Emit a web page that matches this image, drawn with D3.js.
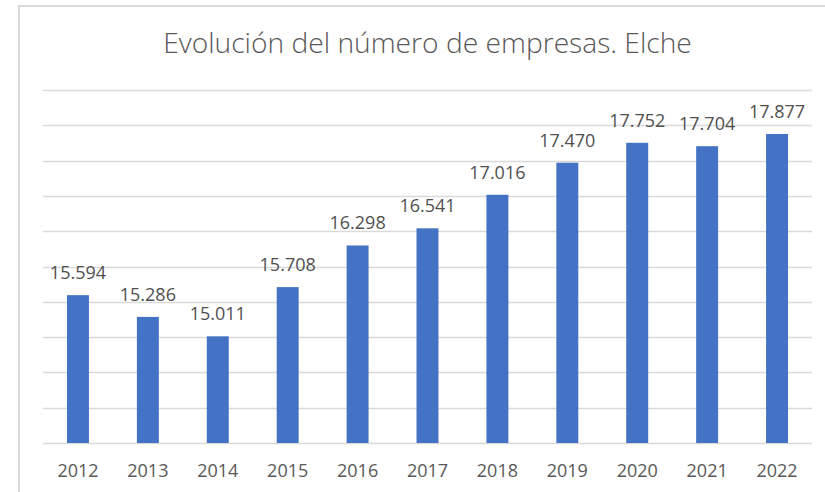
<!DOCTYPE html>
<html>
<head>
<meta charset="utf-8">
<script src="https://cdn.jsdelivr.net/npm/d3@7"></script>
<style>
  html, body { margin: 0; padding: 0; background: #fff; }
  svg { display: block; }
</style>
</head>
<body>
<svg id="chart" width="825" height="492"></svg>
<script>
const years = ["2012","2013","2014","2015","2016","2017","2018","2019","2020","2021","2022"];
const empresas = [15594, 15286, 15011, 15708, 16298, 16541, 17016, 17470, 17752, 17704, 17877];
const yTicks = [13500,14000,14500,15000,15500,16000,16500,17000,17500,18000,18500];
const titleText = "Evolución del número de empresas. Elche";

const fmt = v => d3.format(",")(v).replace(/,/g, ".");

const svg = d3.select("#chart");
const W = 825, H = 492;
const plot = { left: 43, right: 812, top: 90, bottom: 443 };
const font = "'Open Sans', 'Noto Sans', sans-serif";
const textColor = "#595959";

// chart border
svg.append("rect")
  .attr("x", 19).attr("y", 6)
  .attr("width", W + 20).attr("height", H + 20)
  .attr("fill", "#fff")
  .attr("stroke", "#D9D9D9").attr("stroke-width", 2);

const x = d3.scaleBand().domain(years)
  .range([plot.left, plot.right])
  .paddingInner(0.686).paddingOuter(0.343);
const y = d3.scaleLinear().domain([13500, 18500]).range([plot.bottom, plot.top]);

// gridlines
svg.append("g").selectAll("line").data(yTicks).join("line")
  .attr("x1", plot.left).attr("x2", plot.right)
  .attr("y1", d => Math.round(y(d)) + 0.5).attr("y2", d => Math.round(y(d)) + 0.5)
  .attr("stroke", "#D9D9D9").attr("stroke-width", 1.5);

// bars
svg.append("g").selectAll("rect").data(years).join("rect")
  .attr("x", d => x(d))
  .attr("width", x.bandwidth())
  .attr("y", (d, i) => y(empresas[i]))
  .attr("height", (d, i) => y(13500) - y(empresas[i]))
  .attr("fill", "#4472C4");

// data labels
svg.append("g").selectAll("text").data(years).join("text")
  .attr("x", d => x(d) + x.bandwidth() / 2)
  .attr("y", (d, i) => y(empresas[i]) - 16)
  .attr("text-anchor", "middle")
  .attr("font-family", font).attr("font-size", 18)
  .attr("fill", "#505050")
  .text((d, i) => fmt(empresas[i]));

// x axis labels
const xAxis = d3.axisBottom(x).tickSize(0).tickPadding(0);
const gx = svg.append("g").attr("transform", `translate(0,${plot.bottom})`).call(xAxis);
gx.select(".domain").remove();
gx.selectAll("text")
  .attr("dy", null).attr("y", 34)
  .attr("font-family", font).attr("font-size", 18)
  .attr("fill", textColor);

// title
const title = svg.append("text")
  .attr("x", (plot.left + plot.right) / 2)
  .attr("y", 53)
  .attr("text-anchor", "middle")
  .attr("font-family", font).attr("font-weight", 300)
  .attr("font-size", 24)
  .attr("fill", textColor)
  .text(titleText);
const tw = title.node().getComputedTextLength();
title.attr("font-size", 24 * 529 / tw);
</script>
</body>
</html>
